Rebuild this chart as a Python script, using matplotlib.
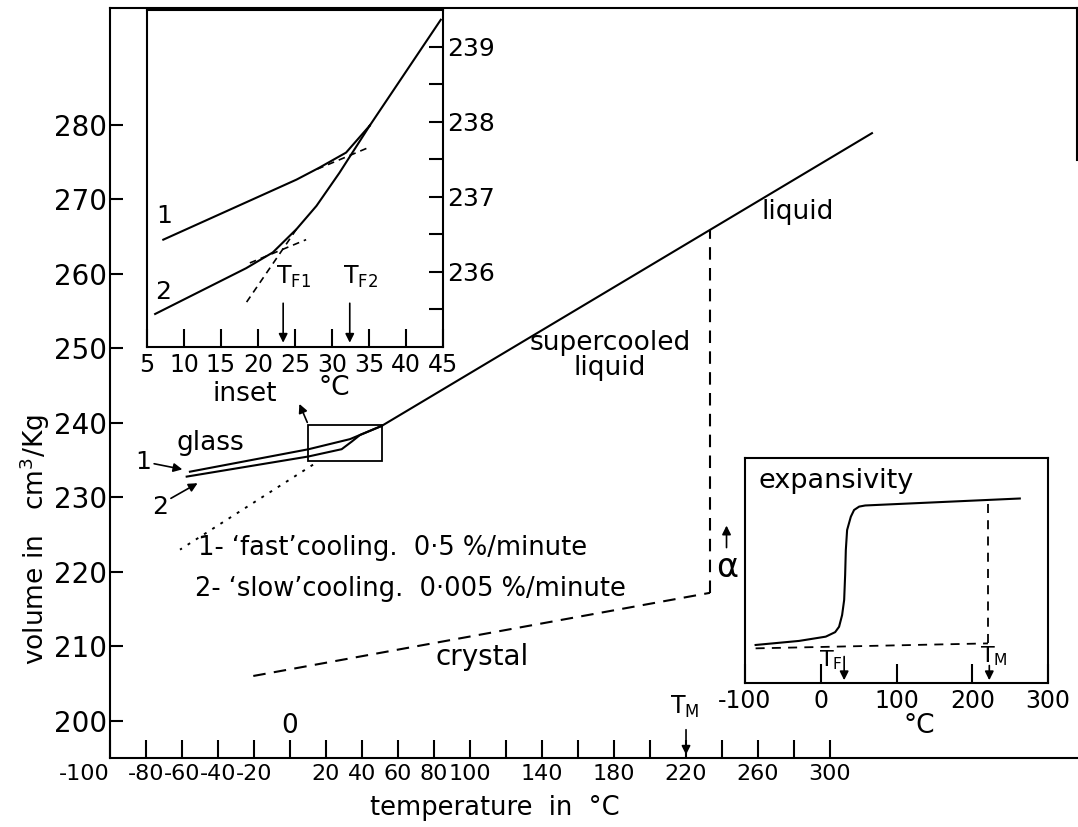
import matplotlib
matplotlib.use('Agg')
import matplotlib.pyplot as plt
from matplotlib.patches import Rectangle

# main diagram: temperature (degC) vs specific volume (cm3/kg)
liquid_t = [50.9, 323.3]
liquid_v = [239.6, 278.9]
glass1_t = [-55.6, 10.2, 33.3, 50.9]
glass1_v = [233.46, 236.47, 237.83, 239.6]
glass2_t = [-57.4, 10.2, 28.7, 34.3, 38.9, 50.9]
glass2_v = [232.8, 235.5, 236.48, 237.5, 238.39, 239.6]
supercooled_t = [12.8, -61.1]
supercooled_v = [234.4, 223.0]
crystal_t = [-20.4, 233.3]
crystal_v = [206.04, 217.2]
melt_t = [233.3, 233.3]
melt_v = [217.2, 265.9]
box_t = [10.2, 50.9]
box_v = [234.94, 239.73]

x_ticks = list(range(-100, 301, 20))
x_labels = {-100: '-100', -80: '-80', -60: '-60', -40: '-40', -20: '-20',
            20: '20', 40: '40', 60: '60', 80: '80', 100: '100',
            140: '140', 180: '180', 220: '220', 260: '260', 300: '300'}
y_ticks = [200, 210, 220, 230, 240, 250, 260, 270, 280]

# inset (zoom of the glass transition region)
in1_t = [7.2, 25.2, 28.3, 31.9, 35.1]
in1_v = [236.43, 237.23, 237.39, 237.59, 237.95]
in2_t = [6.1, 18.4, 22.0, 25.2, 27.9, 31.0, 35.1]
in2_v = [235.44, 236.05, 236.26, 236.57, 236.88, 237.32, 237.95]
in_liq_t = [35.1, 44.7]
in_liq_v = [237.95, 239.36]
tan1_t = [28.0, 35.0]
tan1_v = [237.37, 237.66]
tan2_t = [18.9, 26.5]
tan2_v = [236.12, 236.43]
ext2_t = [25.2, 18.4]
ext2_v = [236.57, 235.59]
tf1, tf2 = 23.4, 32.4

# expansivity inset
exp_t = [-86, -28.7, 6.6, 19.0, 24.2, 28.2, 30.9, 32.2, 33.1, 34.8, 39.7, 44.0,
         50.7, 58.7, 262.8]
exp_a = [0.169, 0.187, 0.206, 0.226, 0.25, 0.302, 0.369, 0.48, 0.591, 0.68,
         0.739, 0.769, 0.784, 0.789, 0.82]
exp_base_t = [-86, 220.7]
exp_base_a = [0.154, 0.176]
exp_tm_t = [220.7, 220.7]
exp_tm_a = [0.176, 0.813]

plt.rcParams['font.family'] = 'DejaVu Sans'
fig = plt.figure(figsize=(10.78, 8.27), dpi=100)

ax = fig.add_axes([110 / 1078, 1 - 758 / 827, 967 / 1078, 750 / 827])
ax.set_xlim(-100, 437.2)
ax.set_ylim(195.03, 295.7)
for s in ['top', 'bottom', 'left', 'right']:
    ax.spines[s].set_linewidth(1.5)
ax.spines['right'].set_bounds(275.3, 295.7)

arw = dict(arrowstyle='-|>', color='black', lw=1.2, mutation_scale=13)

ax.plot(liquid_t, liquid_v, color='black', lw=1.5)
ax.plot(glass1_t, glass1_v, color='black', lw=1.5)
ax.plot(glass2_t, glass2_v, color='black', lw=1.5)
ax.plot(supercooled_t, supercooled_v, color='black', lw=1.4, ls=(0, (1.5, 3.5)))
ax.plot(crystal_t, crystal_v, color='black', lw=1.5, ls=(0, (6, 4)))
ax.plot(melt_t, melt_v, color='black', lw=1.5, ls=(0, (6, 4)))
ax.add_patch(Rectangle((box_t[0], box_v[0]), box_t[1] - box_t[0], box_v[1] - box_v[0],
                       fill=False, lw=1.3, color='black'))
ax.annotate('', xy=(4.6, 242.9), xytext=(box_t[0], box_v[1]), arrowprops=arw)

ax.set_xticks(x_ticks)
ax.set_xticklabels([x_labels.get(t, '') for t in x_ticks], fontsize=16)
ax.get_xticklabels()[0].set_ha('right')
ax.set_yticks(y_ticks)
ax.set_yticklabels([str(v) for v in y_ticks], fontsize=20)
ax.tick_params(axis='x', direction='in', length=13, width=1.5, pad=4)
ax.tick_params(axis='y', direction='in', length=9, width=1.5, pad=2)

ax.text(0, 199.3, '0', ha='center', va='center', fontsize=19)
ax.text(219, 201.9, r'T$_\mathregular{M}$', ha='center', va='center', fontsize=17)
ax.annotate('', xy=(220, 195.1), xytext=(220, 199.2), arrowprops=arw)

ax.text(262, 268.3, 'liquid', ha='left', va='center', fontsize=19)
ax.text(177.8, 249.1, 'supercooled\nliquid', ha='center', va='center', fontsize=19,
        linespacing=0.95)
ax.text(-44.4, 237.3, 'glass', ha='center', va='center', fontsize=19)
ax.text(-81.7, 234.8, '1', ha='center', va='center', fontsize=18)
ax.annotate('', xy=(-58.3, 233.7), xytext=(-77.0, 234.6), arrowprops=arw)
ax.text(-72.2, 228.7, '2', ha='center', va='center', fontsize=18)
ax.annotate('', xy=(-50, 232.1), xytext=(-67.5, 229.7), arrowprops=arw)
ax.text(-51.1, 223.2, '1- \u2018fast\u2019cooling.  0\u00b75 %/minute',
        ha='left', va='center', fontsize=18.5)
ax.text(-52.8, 217.7, '2- \u2018slow\u2019cooling.  0\u00b7005 %/minute',
        ha='left', va='center', fontsize=18.5)
ax.text(106.7, 208.6, 'crystal', ha='center', va='center', fontsize=20)
ax.text(-25, 243.9, 'inset', ha='center', va='center', fontsize=19)
ax.text(24.4, 244.7, '\u00b0C', ha='center', va='center', fontsize=19)
ax.text(243, 220.6, '\u03b1', ha='center', va='center', fontsize=24)
ax.annotate('', xy=(242.5, 226.6), xytext=(242.5, 222.9), arrowprops=arw)

fig.text(35 / 1078, 1 - 540 / 827, 'volume in   cm$^3$/Kg', rotation=90,
         ha='center', va='center', fontsize=19)
fig.text(495 / 1078, 1 - 808 / 827, 'temperature  in  \u00b0C',
         ha='center', va='center', fontsize=18.5)

# inset of the transition region
ins = fig.add_axes([147 / 1078, 1 - 347 / 827, 296 / 1078, 337 / 827])
ins.set_xlim(5, 45)
ins.set_ylim(235.0, 239.49)
for s in ['top', 'bottom', 'left', 'right']:
    ins.spines[s].set_linewidth(1.5)
ins.plot(in1_t, in1_v, color='black', lw=1.5)
ins.plot(in2_t, in2_v, color='black', lw=1.5)
ins.plot(in_liq_t, in_liq_v, color='black', lw=1.5)
ins.plot(tan1_t, tan1_v, color='black', lw=1.2, ls=(0, (4, 3)))
ins.plot(tan2_t, tan2_v, color='black', lw=1.2, ls=(0, (4, 3)))
ins.plot(ext2_t, ext2_v, color='black', lw=1.2, ls=(0, (4, 3)))
ins.set_xticks(range(5, 46, 5))
ins.set_xticklabels([str(t) for t in range(5, 46, 5)], fontsize=17)
ins.yaxis.tick_right()
ins.set_yticks([235.5, 236, 236.5, 237, 237.5, 238, 238.5, 239])
ins.set_yticklabels(['', '236', '', '237', '', '238', '', '239'], fontsize=18)
ins.tick_params(axis='x', direction='in', length=13, width=1.5, pad=4)
ins.tick_params(axis='y', direction='in', length=10, width=1.5, pad=3)
ins.text(7.3, 236.74, '1', ha='center', va='center', fontsize=18)
ins.text(7.2, 235.73, '2', ha='center', va='center', fontsize=18)
ins.text(24.8, 235.93, r'T$_\mathregular{F1}$', ha='center', va='center', fontsize=17)
ins.text(33.9, 235.93, r'T$_\mathregular{F2}$', ha='center', va='center', fontsize=17)
ins.annotate('', xy=(tf1, 235.02), xytext=(tf1, 235.62), arrowprops=arw)
ins.annotate('', xy=(tf2, 235.02), xytext=(tf2, 235.62), arrowprops=arw)

# expansivity inset
exa = fig.add_axes([745 / 1078, 1 - 683 / 827, 303 / 1078, 225 / 827])
exa.set_xlim(-100, 300)
exa.set_ylim(0, 1)
for s in ['top', 'bottom', 'left', 'right']:
    exa.spines[s].set_linewidth(1.5)
exa.plot(exp_t, exp_a, color='black', lw=1.5)
exa.plot(exp_base_t, exp_base_a, color='black', lw=1.3, ls=(0, (5, 4)))
exa.plot(exp_tm_t, exp_tm_a, color='black', lw=1.3, ls=(0, (5, 4)))
exa.set_xticks([-100, 0, 100, 200, 300])
exa.set_xticklabels(['-100', '0', '100', '200', '300'], fontsize=17)
exa.set_yticks([])
exa.tick_params(axis='x', direction='in', length=14, width=1.5, pad=4)
exa.text(0.043, 0.90, 'expansivity', transform=exa.transAxes, ha='left',
         va='center', fontsize=19.5)
exa.text(0.574, -0.19, '\u00b0C', transform=exa.transAxes, ha='center',
         va='center', fontsize=19)
exa.text(29, 0.1, r'T$_\mathregular{F}$', ha='right', va='center', fontsize=16)
exa.text(228, 0.12, r'T$_\mathregular{M}$', ha='center', va='center', fontsize=16)
exa.annotate('', xy=(30.9, 0.0), xytext=(30.9, 0.13), arrowprops=arw)
exa.annotate('', xy=(222.5, 0.0), xytext=(222.5, 0.09), arrowprops=arw)

fig.savefig('out.png', dpi=100)
